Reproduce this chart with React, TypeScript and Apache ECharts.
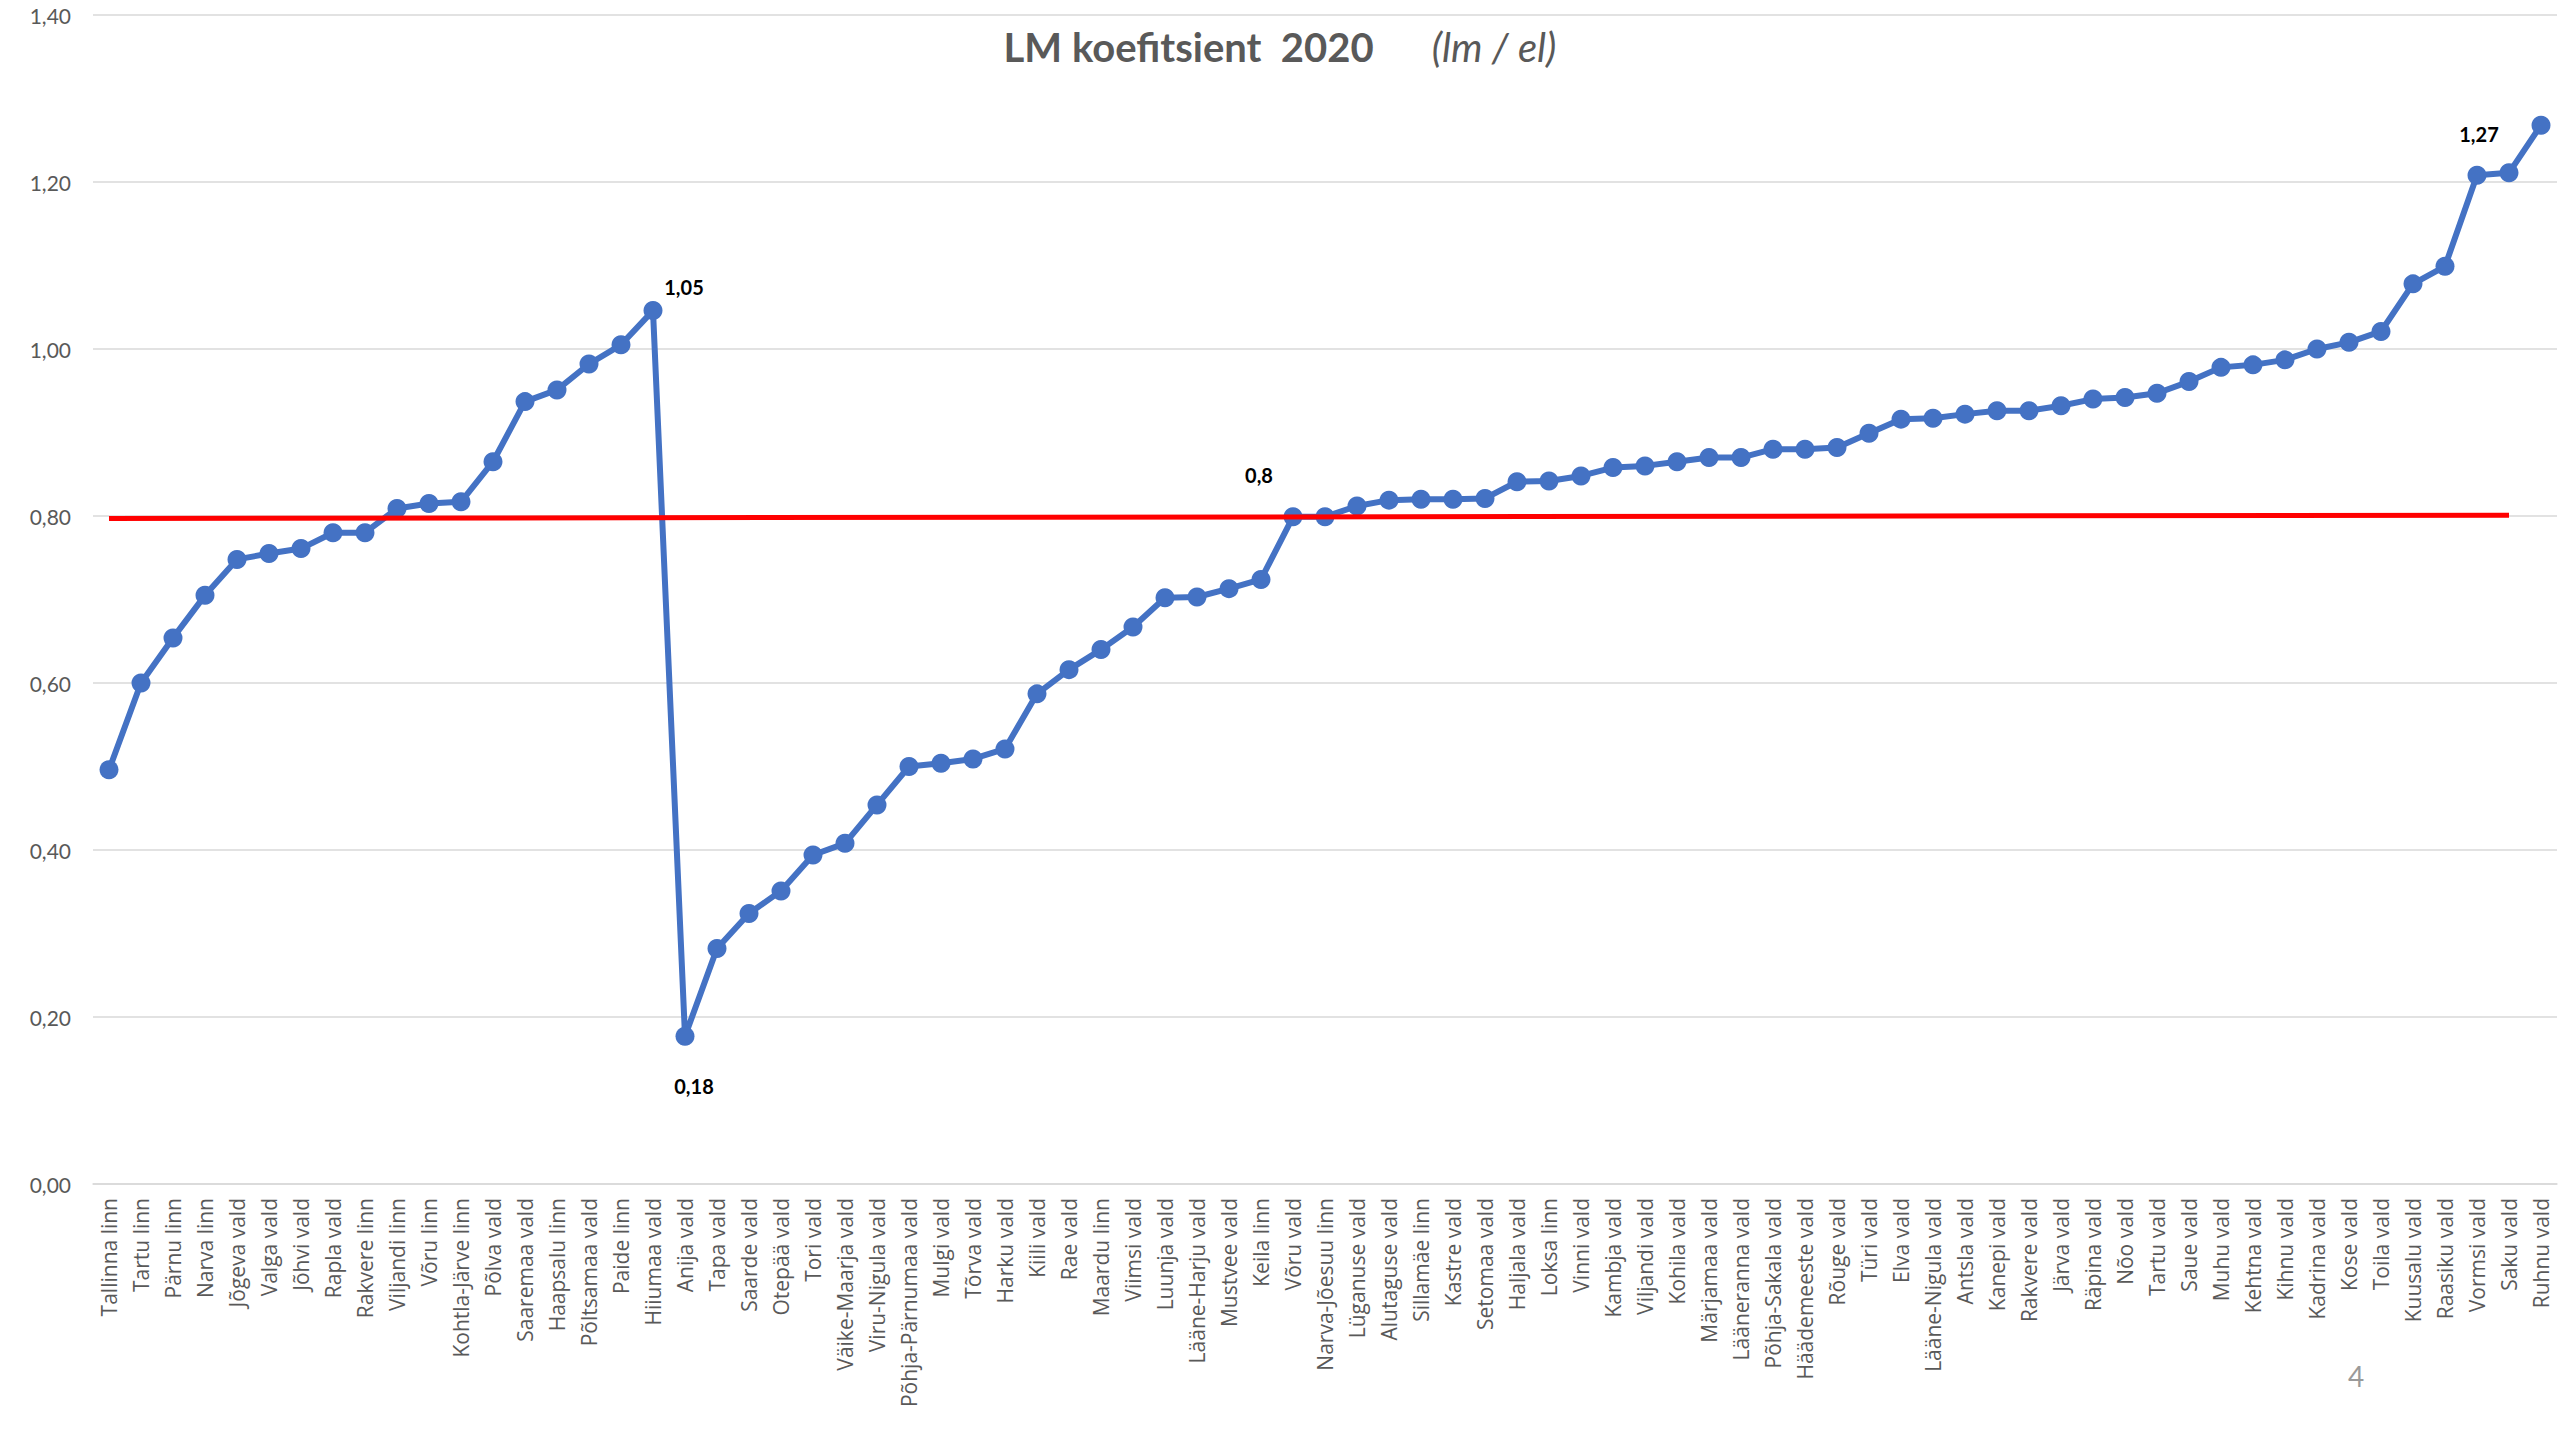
import React, { useEffect, useRef } from "react";
import * as echarts from "echarts";

const categories: string[] = [
  "Tallinna linn", "Tartu linn", "Pärnu linn", "Narva linn", "Jõgeva vald", "Valga vald", "Jõhvi vald",
  "Rapla vald", "Rakvere linn", "Viljandi linn", "Võru linn", "Kohtla-Järve linn", "Põlva vald",
  "Saaremaa vald", "Haapsalu linn", "Põltsamaa vald", "Paide linn", "Hiiumaa vald", "Anija vald",
  "Tapa vald", "Saarde vald", "Otepää vald", "Tori vald", "Väike-Maarja vald", "Viru-Nigula vald",
  "Põhja-Pärnumaa vald", "Mulgi vald", "Tõrva vald", "Harku vald", "Kiili vald", "Rae vald",
  "Maardu linn", "Viimsi vald", "Luunja vald", "Lääne-Harju vald", "Mustvee vald", "Keila linn",
  "Võru vald", "Narva-Jõesuu linn", "Lüganuse vald", "Alutaguse vald", "Sillamäe linn", "Kastre vald",
  "Setomaa vald", "Haljala vald", "Loksa linn", "Vinni vald", "Kambja vald", "Viljandi vald",
  "Kohila vald", "Märjamaa vald", "Lääneranna vald", "Põhja-Sakala vald", "Häädemeeste vald",
  "Rõuge vald", "Türi vald", "Elva vald", "Lääne-Nigula vald", "Antsla vald", "Kanepi vald",
  "Rakvere vald", "Järva vald", "Räpina vald", "Nõo vald", "Tartu vald", "Saue vald", "Muhu vald",
  "Kehtna vald", "Kihnu vald", "Kadrina vald", "Kose vald", "Toila vald", "Kuusalu vald",
  "Raasiku vald", "Vormsi vald", "Saku vald", "Ruhnu vald",
];

const lmValues: number[] = [
  0.496, 0.600, 0.654, 0.705, 0.748, 0.755, 0.761, 0.780, 0.780, 0.809, 0.815, 0.817, 0.865,
  0.937, 0.951, 0.982, 1.005, 1.046, 0.177, 0.282, 0.324, 0.351, 0.394, 0.408, 0.454,
  0.500, 0.504, 0.509, 0.521, 0.587, 0.616, 0.640, 0.667, 0.702, 0.703, 0.713, 0.724,
  0.799, 0.799, 0.812, 0.819, 0.820, 0.820, 0.821, 0.841, 0.842, 0.848, 0.858, 0.860,
  0.865, 0.870, 0.870, 0.880, 0.880, 0.882, 0.899, 0.916, 0.917, 0.922, 0.926, 0.926,
  0.932, 0.940, 0.942, 0.947, 0.961, 0.978, 0.981, 0.987, 1.000, 1.008, 1.021, 1.078,
  1.099, 1.208, 1.211, 1.268,
];

const yTicks: number[] = [0, 0.2, 0.4, 0.6, 0.8, 1.0, 1.2, 1.4];

const labeledPoints: string[] = ["Hiiumaa vald", "Anija vald", "Võru vald", "Ruhnu vald"];

const referenceLine = {
  startCategory: "Tallinna linn",
  endCategory: "Saku vald",
  startValue: 0.797,
  endValue: 0.801,
};

const titleMain = "LM koefitsient  2020";
const titleUnit = "(lm / el)";
const pageNumber = "4";

const labelOffsets: Record<string, number[]> = {
  "Hiiumaa vald": [31, -24],
  "Anija vald": [9, 50],
  "Võru vald": [-34, -42],
  "Ruhnu vald": [-62, 9],
};

const fmtComma = (v: number) => String(parseFloat(v.toFixed(2))).replace(".", ",");

export default function App() {
  const ref = useRef<HTMLDivElement>(null);
  useEffect(() => {
    if (!ref.current) return;
    const chart = echarts.init(ref.current, null, { renderer: "svg" });
    const seriesData = lmValues.map((v, i) => {
      const name = categories[i];
      if (labeledPoints.includes(name)) {
        return {
          value: v,
          label: {
            show: true,
            position: "inside",
            offset: labelOffsets[name],
            formatter: (p: any) => fmtComma(p.value),
            fontFamily: "Lato",
            fontWeight: "bold",
            fontSize: 20,
            color: "#000000",
          },
        };
      }
      return v;
    });
    chart.setOption({
      animation: false,
      backgroundColor: "#ffffff",
      title: {
        left: "center",
        top: 22,
        text: `{a|${titleMain}}{g|}{b|${titleUnit}}`,
        textStyle: {
          rich: {
            a: { fontFamily: "Lato", fontWeight: "bold", fontSize: 40, color: "#595959" },
            g: { width: 58 },
            b: { fontFamily: "Lato", fontStyle: "italic", fontWeight: "normal", fontSize: 40, color: "#595959" },
          },
        },
      },
      grid: { left: 93, right: 3, top: 15, bottom: 256, containLabel: false },
      xAxis: {
        type: "category",
        data: categories,
        boundaryGap: true,
        axisLine: { show: true, lineStyle: { color: "#D9D9D9", width: 1.5 } },
        axisTick: { show: false },
        axisLabel: {
          interval: 0,
          rotate: 90,
          margin: 14,
          fontFamily: "Open Sans",
          fontSize: 21,
          color: "#595959",
        },
      },
      yAxis: {
        type: "value",
        min: yTicks[0],
        max: yTicks[yTicks.length - 1],
        interval: 0.2,
        axisLine: { show: false },
        axisTick: { show: false },
        splitLine: { lineStyle: { color: "#D9D9D9", width: 1.5 } },
        axisLabel: {
          margin: 22,
          fontFamily: "Lato",
          fontSize: 21,
          color: "#595959",
          formatter: (v: number) => v.toFixed(2).replace(".", ","),
        },
      },
      series: [
        {
          type: "line",
          data: [],
          z: 1,
          markLine: {
            silent: true,
            symbol: "none",
            label: { show: false },
            lineStyle: { color: "#FF0000", width: 5, type: "solid" },
            data: [
              [
                { coord: [referenceLine.startCategory, referenceLine.startValue] },
                { coord: [referenceLine.endCategory, referenceLine.endValue] },
              ],
            ],
          },
        },
        {
          type: "line",
          data: seriesData,
          z: 3,
          symbol: "circle",
          symbolSize: 19,
          showAllSymbol: true,
          lineStyle: { color: "#4472C4", width: 6 },
          itemStyle: { color: "#4472C4" },
        },
      ],
      graphic: [
        {
          type: "text",
          x: 2356,
          y: 1376,
          style: {
            text: pageNumber,
            fontFamily: "Lato",
            fontSize: 28,
            fill: "#9A9A9A",
            align: "center",
            verticalAlign: "middle",
          },
        },
      ],
    });
    return () => chart.dispose();
  }, []);
  return (
    <div
      ref={ref}
      style={{ position: "fixed", left: 0, top: 0, width: 2560, height: 1440, background: "#fff" }}
    />
  );
}
